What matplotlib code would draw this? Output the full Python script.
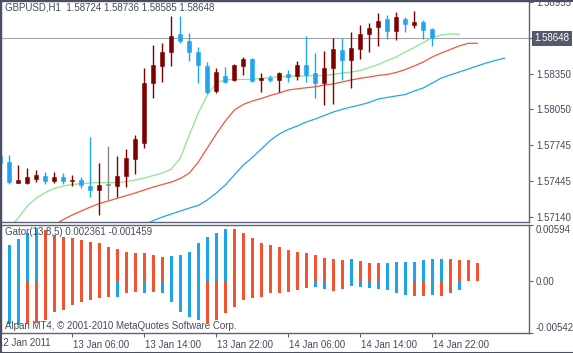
import matplotlib
matplotlib.use("Agg")
import matplotlib.pyplot as plt
import matplotlib.transforms as mtransforms
from matplotlib.patches import Rectangle
import numpy as np

# ---- data (H1 bars, index 0 = 12 Jan 23:00) ----
first_bar = -1
bar_open = [1.57655, 1.57607, 1.57430, 1.57424, 1.57458, 1.57489, 1.57444, 1.57475, 1.57444, 1.57452,
            1.57404, 1.57368, 1.57410, 1.57404, 1.57486, 1.57630, 1.57762, 1.58268, 1.58417, 1.58535,
            1.58682, 1.58625, 1.58535, 1.58414, 1.58203, 1.58330, 1.58296, 1.58417, 1.58474, 1.58296,
            1.58311, 1.58296, 1.58347, 1.58330, 1.58423, 1.58358, 1.58268, 1.58395, 1.58550, 1.58465,
            1.58556, 1.58682, 1.58741, 1.58809, 1.58713, 1.58812, 1.58761, 1.58789, 1.58724]
bar_high = [1.57672, 1.57663, 1.57579, 1.57551, 1.57537, 1.57522, 1.57522, 1.57514, 1.57494, 1.57475,
            1.57818, 1.57593, 1.57739, 1.57655, 1.57711, 1.57832, 1.58395, 1.58592, 1.58606, 1.58836,
            1.58836, 1.58690, 1.58572, 1.58451, 1.58400, 1.58409, 1.58429, 1.58488, 1.58479, 1.58358,
            1.58339, 1.58366, 1.58381, 1.58459, 1.58668, 1.58522, 1.58541, 1.58649, 1.58649, 1.58699,
            1.58761, 1.58780, 1.58860, 1.58845, 1.58868, 1.58826, 1.58882, 1.58803, 1.58736]
bar_low = [1.57579, 1.57419, 1.57424, 1.57419, 1.57438, 1.57419, 1.57424, 1.57416, 1.57402, 1.57382,
           1.57311, 1.57157, 1.57284, 1.57306, 1.57396, 1.57503, 1.57725, 1.58142, 1.58282, 1.58417,
           1.58606, 1.58459, 1.58274, 1.58178, 1.58190, 1.58268, 1.58288, 1.58339, 1.58282, 1.58198,
           1.58282, 1.58198, 1.58282, 1.58296, 1.58282, 1.58142, 1.58086, 1.58094, 1.58296, 1.58226,
           1.58471, 1.58535, 1.58584, 1.58640, 1.58634, 1.58704, 1.58733, 1.58640, 1.58585]
bar_close = [1.57596, 1.57435, 1.57452, 1.57475, 1.57494, 1.57444, 1.57475, 1.57446, 1.57452, 1.57410,
             1.57368, 1.57410, 1.57410, 1.57489, 1.57635, 1.57798, 1.58268, 1.58423, 1.58530, 1.58668,
             1.58628, 1.58535, 1.58423, 1.58198, 1.58366, 1.58277, 1.58423, 1.58474, 1.58288, 1.58311,
             1.58296, 1.58358, 1.58324, 1.58423, 1.58339, 1.58268, 1.58395, 1.58556, 1.58465, 1.58564,
             1.58682, 1.58738, 1.58797, 1.58713, 1.58826, 1.58767, 1.58784, 1.58719, 1.58648]

# Alligator lines (already shifted forward)
lips_start = 0
lips = [1.57047, 1.57132, 1.57233, 1.57300, 1.57347, 1.57381, 1.57402, 1.57414, 1.57423, 1.57427,
        1.57431, 1.57431, 1.57431, 1.57440, 1.57452, 1.57469, 1.57490, 1.57511, 1.57545, 1.57638,
        1.57832, 1.58018, 1.58170, 1.58271, 1.58297, 1.58301, 1.58301, 1.58301, 1.58309, 1.58318,
        1.58324, 1.58328, 1.58330, 1.58330, 1.58333, 1.58335, 1.58343, 1.58356, 1.58364, 1.58377,
        1.58402, 1.58427, 1.58461, 1.58491, 1.58533, 1.58571, 1.58613, 1.58655, 1.58676, 1.58685,
        1.58682]
teeth_start = 5
teeth = [1.57072, 1.57119, 1.57157, 1.57191, 1.57224, 1.57254, 1.57275, 1.57298, 1.57321, 1.57343,
         1.57368, 1.57393, 1.57414, 1.57435, 1.57465, 1.57511, 1.57604, 1.57723, 1.57841, 1.57950,
         1.58043, 1.58090, 1.58119, 1.58140, 1.58166, 1.58187, 1.58212, 1.58222, 1.58231, 1.58239,
         1.58254, 1.58263, 1.58280, 1.58297, 1.58311, 1.58322, 1.58335, 1.58343, 1.58360, 1.58385,
         1.58415, 1.58448, 1.58491, 1.58524, 1.58554, 1.58584, 1.58606, 1.58606]
jaw_start = 15
jaw = [1.57072, 1.57110, 1.57140, 1.57165, 1.57191, 1.57216, 1.57237, 1.57284, 1.57343, 1.57410,
       1.57495, 1.57579, 1.57642, 1.57714, 1.57786, 1.57841, 1.57879, 1.57908, 1.57942, 1.57967,
       1.57997, 1.58026, 1.58049, 1.58069, 1.58086, 1.58107, 1.58136, 1.58149, 1.58162, 1.58174,
       1.58204, 1.58229, 1.58271, 1.58313, 1.58339, 1.58364, 1.58389, 1.58415, 1.58440, 1.58461,
       1.58480]

# Gator oscillator
gator_up = [0.00384, 0.00447, 0.00510, 0.00558, 0.00542, 0.00489, 0.00471, 0.00454, 0.00437, 0.00419,
            0.00402, 0.00366, 0.00339, 0.00313, 0.00297, 0.00295, 0.00279, 0.00261, 0.00268, 0.00279,
            0.00313, 0.00402, 0.00471, 0.00507, 0.00552, 0.00547, 0.00507, 0.00454, 0.00408, 0.00384,
            0.00360, 0.00331, 0.00313, 0.00297, 0.00279, 0.00244, 0.00234, 0.00231, 0.00237, 0.00219,
            0.00198, 0.00191, 0.00195, 0.00200, 0.00205, 0.00208, 0.00226, 0.002361, 0.00237, 0.00236,
            0.00231, 0.00226, 0.00198]
gator_up_col = "BBBBRRRRRRRRRRRRRRBBBBBBBRRRRRRRRRRRRRBRRRBBBBBBBRRRR"
gator_dn = [-0.00447, -0.00458, -0.00452, -0.00437, -0.00405, -0.00318, -0.00300, -0.00247, -0.00213, -0.00195,
            -0.00177, -0.00160, -0.00163, -0.00124, -0.00107, -0.00116, -0.00107, -0.00124, -0.00213, -0.00318,
            -0.00370, -0.00405, -0.00440, -0.00405, -0.00335, -0.00265, -0.00195, -0.00177, -0.00160, -0.00124,
            -0.00121, -0.00107, -0.00089, -0.00072, -0.00055, -0.00074, -0.00100, -0.00082, -0.00044, -0.00055,
            -0.00072, -0.00074, -0.00089, -0.00124, -0.00142, -0.00152, -0.00149, -0.001459, -0.00149, -0.00118,
            -0.00089]
gator_dn_col = "BBRRRRRRRRRRBRRBRBBBBBRRRRRRRRRRRRBBRRBBBBBBBRRBRR"

time_ticks = [7, 15, 23, 31, 39, 47]
time_labels = ["13 Jan 06:00", "13 Jan 14:00", "13 Jan 22:00",
               "14 Jan 06:00", "14 Jan 14:00", "14 Jan 22:00"]
price_ticks = [1.57140, 1.57445, 1.57745, 1.58050, 1.58350, 1.58650, 1.58955]
gator_ticks = [0.00594, 0.0, -0.00542]
gator_tick_labels = ["0.00594", "0.00", "-0.00542"]
last_price = 1.58648

# ---- style ----
BULL = "#800000"
BEAR = "#1ea5ee"
DOJI = "#8a8a8a"
G_RED = "#f25431"
G_BLUE = "#1ea5e8"
FRAME = "#5c6378"
TXT = "#454b5c"
plt.rcParams["font.family"] = ["Liberation Sans", "DejaVu Sans"]
plt.rcParams["font.size"] = 7

W, H = 573, 353
fig = plt.figure(figsize=(W / 100, H / 100), dpi=100, facecolor="white")


def fbox(x0, y0, x1, y1):
    return [x0 / W, 1 - y1 / H, (x1 - x0) / W, (y1 - y0) / H]


ax = fig.add_axes(fbox(1, 1, 529, 222))
ax2 = fig.add_axes(fbox(1, 225, 529, 333), sharex=ax)

x0 = (1 - 9.3) / 9
x1 = (529 - 9.3) / 9

# candles
o = np.array(bar_open)
h = np.array(bar_high)
l = np.array(bar_low)
c = np.array(bar_close)
xs = np.arange(first_bar, first_bar + len(o))
cols = [BULL if cc > oo else (BEAR if cc < oo else DOJI) for oo, cc in zip(o, c)]
ax.vlines(xs, l, h, colors=cols, lw=1.0, zorder=3)
body_h = np.maximum(np.abs(c - o), 0.00006)
ax.bar(xs, body_h, bottom=np.minimum(o, c), width=0.46, color=cols,
       edgecolor=cols, lw=0.4, zorder=4)

ax.plot(np.arange(lips_start, lips_start + len(lips)), lips, color="#8ee68e", lw=0.9, zorder=2)
ax.plot(np.arange(teeth_start, teeth_start + len(teeth)), teeth, color="#f0583a", lw=0.9, zorder=2)
ax.plot(np.arange(jaw_start, jaw_start + len(jaw)), jaw, color="#20a8e8", lw=0.9, zorder=2)

ax.axhline(last_price, color="#a3a6b2", lw=0.8, zorder=1)

ax.set_xlim(x0, x1)
ax.set_ylim(1.57098, 1.58963)
ax.yaxis.tick_right()
ax.set_yticks(price_ticks)
ax.set_yticklabels(["%.5f" % v for v in price_ticks])
ax.tick_params(axis="y", direction="out", length=3, width=0.8, pad=2,
               colors=FRAME, labelcolor=TXT, labelsize=7)
ax.tick_params(axis="x", bottom=False, labelbottom=False)
for s in ax.spines.values():
    s.set_color(FRAME)
    s.set_linewidth(1.0)

ax.text(0.008, 0.995, "GBPUSD,H1  1.58724 1.58736 1.58585 1.58648", transform=ax.transAxes,
        va="top", ha="left", color=TXT, fontsize=7)

ax.annotate("%.5f" % last_price, xy=(1, last_price),
            xycoords=mtransforms.blended_transform_factory(ax.transAxes, ax.transData),
            xytext=(4, 0), textcoords="offset points", va="center", ha="left",
            color="white", fontsize=7, annotation_clip=False,
            bbox=dict(boxstyle="square,pad=0.25", fc="#525a6c", ec="none"))

# gator
xu = np.arange(0, len(gator_up))
xd = np.arange(0, len(gator_dn))
ax2.bar(xu, gator_up, width=0.36, lw=0,
        color=[G_RED if k == "R" else G_BLUE for k in gator_up_col])
ax2.bar(xd, gator_dn, width=0.36, lw=0,
        color=[G_RED if k == "R" else G_BLUE for k in gator_dn_col])
ax2.set_ylim(-0.00542, 0.00594)
ax2.set_xlim(x0, x1)
ax2.yaxis.tick_right()
ax2.set_yticks(gator_ticks)
ax2.set_yticklabels(gator_tick_labels)
ax2.tick_params(axis="y", direction="out", length=3, width=0.8, pad=2,
                colors=FRAME, labelcolor=TXT, labelsize=7)
ylabs = ax2.get_yticklabels()
ylabs[0].set_va("top")
ylabs[2].set_va("bottom")
for s in ax2.spines.values():
    s.set_color(FRAME)
    s.set_linewidth(1.0)

ax2.set_xticks(time_ticks)
ax2.set_xticklabels(time_labels)
ax2.tick_params(axis="x", direction="out", length=3, width=0.8, pad=2,
                colors=FRAME, labelcolor=TXT, labelsize=7)
shift = mtransforms.ScaledTranslation(1 / 100, 0, fig.dpi_scale_trans)
for lab in ax2.get_xticklabels():
    lab.set_ha("left")
    lab.set_transform(lab.get_transform() + shift)
fig.text(-2 / W, 1 - 343 / H, "12 Jan 2011", va="center", ha="left", color=TXT, fontsize=7)

ax2.text(0.008, 0.985, "Gator(13,8,5) 0.002361 -0.001459", transform=ax2.transAxes,
         va="top", ha="left", color=TXT, fontsize=7, zorder=5)
ax2.text(0.008, 0.015, "Alpari MT4, \u00a9 2001-2010 MetaQuotes Software Corp.",
         transform=ax2.transAxes, va="bottom", ha="left", color=TXT, fontsize=7, zorder=5)

# window border
fig.add_artist(Rectangle((0.5 / W, 0.5 / H), 1.2, 1 - 1.5 / H, transform=fig.transFigure,
                         fill=False, ec="#4a5064", lw=1.5))

fig.savefig("out.png", dpi=100, facecolor="white")
